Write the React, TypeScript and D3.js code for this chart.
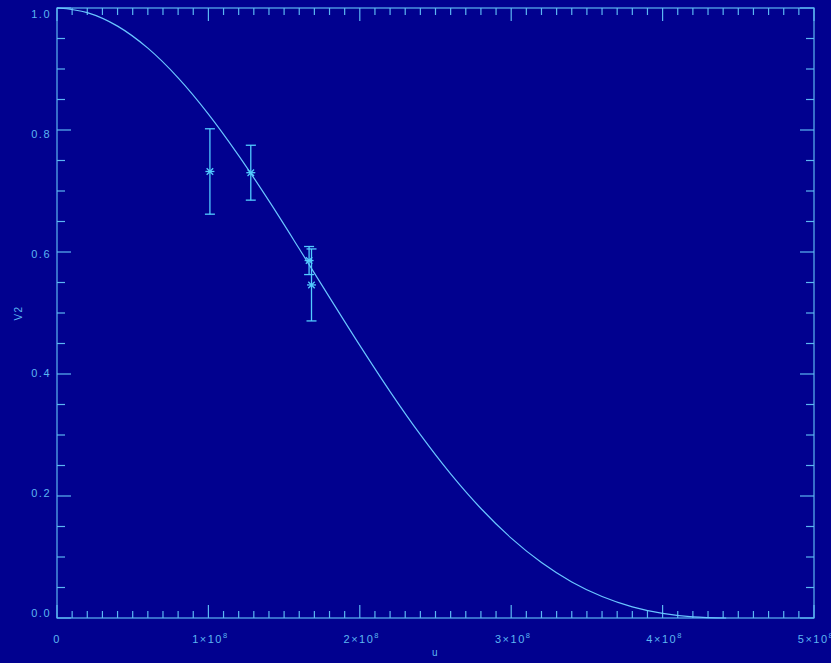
import React, { useEffect } from "react";
import * as d3 from "d3";

// Observed data points (u in units of 1e8)
const pointU = [1.01, 1.28, 1.665, 1.681];
const pointV2 = [0.732, 0.730, 0.586, 0.546];
const pointErr = [0.070, 0.045, 0.023, 0.059];

// Model curve (u in units of 1e8)
const curveU = [0, 0.2, 0.4, 0.6, 0.8, 1.0, 1.2, 1.4, 1.6, 1.8, 2.0, 2.2, 2.4, 2.6, 2.8, 3.0, 3.2, 3.4, 3.6, 3.8, 4.0, 4.2, 4.42];
const curveV2 = [1.0, 0.9925, 0.9703, 0.9342, 0.8856, 0.8262, 0.7581, 0.6837, 0.6053, 0.5256, 0.4469, 0.3712, 0.3005, 0.2362, 0.1795, 0.1310, 0.0909, 0.0591, 0.0352, 0.0183, 0.0076, 0.0019, 0.0];

const xMajorTicks = [0, 1, 2, 3, 4, 5];
const xTickLabels = ["0", "1×10", "2×10", "3×10", "4×10", "5×10"];
const yMajorTicks = [0, 0.2, 0.4, 0.6, 0.8, 1.0];
const yTickLabels = ["0.0", "0.2", "0.4", "0.6", "0.8", "1.0"];
const xTitle = "u";
const yTitle = "V2";

const W = 831;
const H = 663;
const BG = "#01018f";
const FG = "#5cb6f2";
const CURVE = "#6ac6ff";
const PTS = "#52ccff";
const FONT = "'Liberation Sans', Arial, sans-serif";

export default function App() {
  useEffect(() => {
    document.body.style.margin = "0";
    document.body.style.background = BG;
  }, []);

  const x = d3.scaleLinear().domain([0, 5]).range([57, 814]);
  const y = d3.scaleLinear().domain([0, 1]).range([618, 8]);
  const [x0, x1] = x.range();
  const [y0, y1] = y.range();

  const xMinor = d3.range(0, 50.001, 1).map((d) => d / 10);
  const yMinor = d3.range(0, 20.001, 1).map((d) => d / 20);

  const line = d3
    .line<number>()
    .x((_, i) => x(curveU[i]))
    .y((d) => y(d))
    .curve(d3.curveMonotoneX);

  const isMajorX = (v: number) => Math.abs(v - Math.round(v)) < 1e-6;
  const isMajorY = (v: number) => Math.abs(v * 5 - Math.round(v * 5)) < 1e-6;

  const xTickLen = (v: number) => (isMajorX(v) ? 13 : 7);
  const yTickLen = (v: number) => (isMajorY(v) ? 14 : 8);

  return (
    <svg
      width={W}
      height={H}
      style={{ position: "absolute", left: 0, top: 0, display: "block" }}
    >
      <rect x={0} y={0} width={W} height={H} fill={BG} />
      <g stroke={FG} strokeWidth={1.2} fill="none">
        <rect x={x0} y={y1} width={x1 - x0} height={y0 - y1} />
        {xMinor.map((v, i) => (
          <g key={"xt" + i}>
            <line x1={x(v)} x2={x(v)} y1={y0} y2={y0 - xTickLen(v)} />
            <line x1={x(v)} x2={x(v)} y1={y1} y2={y1 + xTickLen(v)} />
          </g>
        ))}
        {yMinor.map((v, i) => (
          <g key={"yt" + i}>
            <line x1={x0} x2={x0 + yTickLen(v)} y1={y(v)} y2={y(v)} />
            <line x1={x1} x2={x1 - yTickLen(v)} y1={y(v)} y2={y(v)} />
          </g>
        ))}
      </g>

      <g fill={FG} fontFamily={FONT} fontSize={11} letterSpacing={1.5}>
        {yMajorTicks.map((v, i) => (
          <text
            key={"yl" + i}
            x={51}
            y={y(v) + (-5 + 11 * v)}
            dy="0.36em"
            textAnchor="end"
          >
            {yTickLabels[i]}
          </text>
        ))}
        {xMajorTicks.map((v, i) => (
          <text key={"xl" + i} x={x(v) + (i === 0 ? 0 : 2)} y={643} textAnchor="middle">
            {xTickLabels[i]}
            {i > 0 ? (
              <tspan fontSize={7.5} dy={-5}>
                8
              </tspan>
            ) : null}
          </text>
        ))}
        <text x={(x0 + x1) / 2} y={656} textAnchor="middle" fontSize={10}>
          {xTitle}
        </text>
        <text
          transform={`translate(22, ${(y0 + y1) / 2}) rotate(-90)`}
          textAnchor="middle"
          fontSize={10}
        >
          {yTitle}
        </text>
      </g>

      <path d={line(curveV2) || ""} fill="none" stroke={CURVE} strokeWidth={1.2} />

      <g stroke={PTS} strokeWidth={1.3} fill="none">
        {pointU.map((u, i) => {
          const cx = x(u);
          const cy = y(pointV2[i]);
          const top = y(pointV2[i] + pointErr[i]);
          const bot = y(pointV2[i] - pointErr[i]);
          const r = 4.5;
          const d = r * 0.72;
          return (
            <g key={"p" + i}>
              <line x1={cx} x2={cx} y1={top} y2={bot} />
              <line x1={cx - 5} x2={cx + 5} y1={top} y2={top} />
              <line x1={cx - 5} x2={cx + 5} y1={bot} y2={bot} />
              <line x1={cx - r} x2={cx + r} y1={cy} y2={cy} />
              <line x1={cx - d} x2={cx + d} y1={cy - d} y2={cy + d} />
              <line x1={cx - d} x2={cx + d} y1={cy + d} y2={cy - d} />
            </g>
          );
        })}
      </g>
    </svg>
  );
}
